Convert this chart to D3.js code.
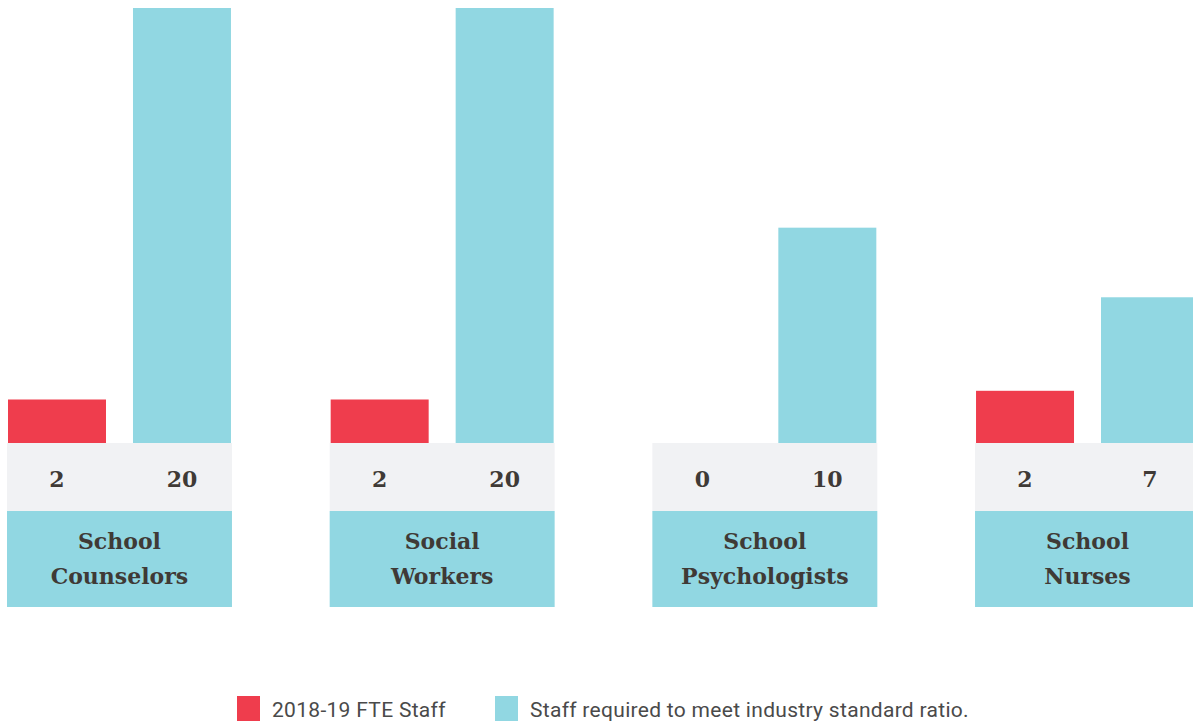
<!DOCTYPE html>
<html>
<head>
<meta charset="utf-8">
<script src="https://cdn.jsdelivr.net/npm/d3@7"></script>
<style>
  body { margin: 0; background: #fff; }
  svg { display: block; }
  .val { font-family: "DejaVu Serif", serif; font-weight: bold; font-size: 22px; fill: #3f3a36; }
  .cat { font-family: "DejaVu Serif", serif; font-weight: bold; font-size: 22px; fill: #3f3a36; }
  .leg { font-family: Roboto, "Liberation Sans", sans-serif; font-size: 21px; fill: #4a4a4a; letter-spacing: 0.3px; }
</style>
</head>
<body>
<svg id="chart" width="1193" height="721"></svg>
<script>
// data
var categories = ["School Counselors", "Social Workers", "School Psychologists", "School Nurses"]
var catLines = [["School", "Counselors"], ["Social", "Workers"], ["School", "Psychologists"], ["School", "Nurses"]]
var fteStaff = [2, 2, 0, 2.4]
var requiredStaff = [20, 20, 9.9, 6.7]
var seriesNames = ["2018-19 FTE Staff", "Staff required to meet industry standard ratio."]
var seriesColors = ["#ef3d4d", "#91d7e2"]

var svg = d3.select("#chart")

var baseline = 443
var y = d3.scaleLinear().domain([0, 20]).range([baseline, 8])

var x0 = d3.scaleBand()
  .domain(categories)
  .range([8, 1199])
  .paddingInner(0.309)
  .paddingOuter(0)

var x1 = d3.scaleBand()
  .domain([0, 1])
  .range([0, x0.bandwidth()])
  .paddingInner(0.216)
  .paddingOuter(0)

var fmt = d3.format(".0f")

var rows = categories.map((c, i) => ({cat: c, lines: catLines[i], vals: [fteStaff[i], requiredStaff[i]]}))

var groups = svg.selectAll(".group")
  .data(rows)
  .enter().append("g")
  .attr("class", "group")
  .attr("transform", d => `translate(${x0(d.cat)},0)`)

// value strip
groups.append("rect")
  .attr("x", -1)
  .attr("y", baseline)
  .attr("width", x0.bandwidth() + 2)
  .attr("height", 68)
  .attr("fill", "#f1f2f4")

// category box
groups.append("rect")
  .attr("x", -1)
  .attr("y", 511)
  .attr("width", x0.bandwidth() + 2)
  .attr("height", 96)
  .attr("fill", seriesColors[1])

groups.each(function(d) {
  var g = d3.select(this)
  d.vals.forEach((v, k) => {
    g.append("rect")
      .attr("x", x1(k))
      .attr("y", y(v))
      .attr("width", x1.bandwidth())
      .attr("height", baseline - y(v))
      .attr("fill", seriesColors[k])
    g.append("text")
      .attr("class", "val")
      .attr("x", x1(k) + x1.bandwidth() / 2)
      .attr("y", 487)
      .attr("text-anchor", "middle")
      .text(fmt(v))
  })
  var t = g.append("text")
    .attr("class", "cat")
    .attr("text-anchor", "middle")
  d.lines.forEach((l, j) => {
    t.append("tspan")
      .attr("x", x0.bandwidth() / 2)
      .attr("y", 549 + j * 35)
      .text(l)
  })
})

// legend
var legX = [237, 495]
var leg = svg.selectAll(".legitem")
  .data(seriesNames)
  .enter().append("g")
  .attr("class", "legitem")
  .attr("transform", (d, i) => `translate(${legX[i]},696)`)

leg.append("rect")
  .attr("width", 23)
  .attr("height", 25)
  .attr("fill", (d, i) => seriesColors[i])

leg.append("text")
  .attr("class", "leg")
  .attr("x", 35)
  .attr("y", 21)
  .text(d => d)
</script>
</body>
</html>
